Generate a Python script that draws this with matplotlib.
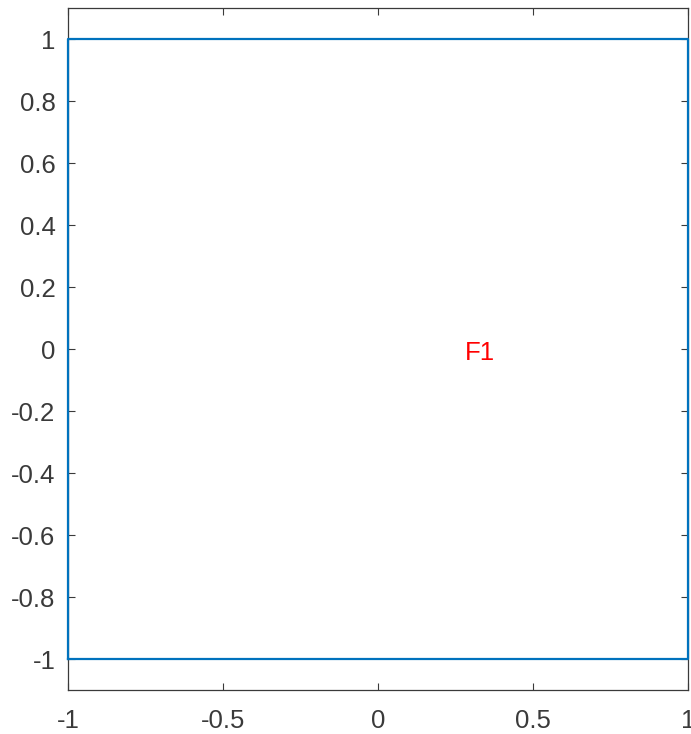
import matplotlib
matplotlib.use("Agg")
import matplotlib.pyplot as plt
from matplotlib.ticker import FuncFormatter

plt.rcParams['font.family'] = ['Liberation Sans', 'DejaVu Sans']
plt.rcParams['axes.unicode_minus'] = False

# geometria: rettangolo con bordo
edge_x = [-1, 1, 1, -1, -1]
edge_y = [-1, -1, 1, 1, -1]
face_label = "F1"
label_pos = (0.33, -0.012)
xticks = [-1, -0.5, 0, 0.5, 1]
yticks = [-1, -0.8, -0.6, -0.4, -0.2, 0, 0.2, 0.4, 0.6, 0.8, 1]

fig = plt.figure(figsize=(6.91, 7.34), dpi=100)
ax = fig.add_axes([0.0984, 0.0599, 0.8973, 0.9291])

ax.plot(edge_x, edge_y, color='#0072BD', linewidth=1.6, clip_on=False, zorder=3)
ax.text(label_pos[0], label_pos[1], face_label, color='#FF0000', fontsize=18.5,
        ha='center', va='center')

ax.set_xlim(-1, 1)
ax.set_ylim(-1.1, 1.1)
ax.set_xticks(xticks)
ax.set_yticks(yticks)
fmt = FuncFormatter(lambda v, p: '%g' % v)
ax.xaxis.set_major_formatter(fmt)
ax.yaxis.set_major_formatter(fmt)
ax.tick_params(direction='in', length=5, width=0.8, colors='#3a3a3a',
               labelsize=18.5, top=True, right=True)
ax.tick_params(axis='y', pad=9)
ax.tick_params(axis='x', pad=14)
for s in ax.spines.values():
    s.set_color('#3a3a3a')
    s.set_linewidth(0.9)

fig.savefig('out.png', dpi=100)
